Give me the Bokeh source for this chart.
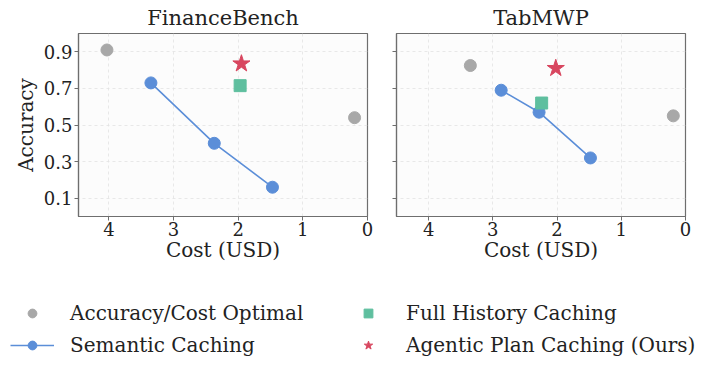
from bokeh.plotting import figure
from bokeh.models import Range1d, FixedTicker, Legend, LegendItem
from bokeh.layouts import column, row
from bokeh.embed import file_html
from bokeh.resources import INLINE

# ---- data ----
panels = ["FinanceBench", "TabMWP"]

fb_opt_cost = [4.03, 0.2]
fb_opt_acc = [0.91, 0.54]
fb_sem_cost = [3.35, 2.37, 1.47]
fb_sem_acc = [0.73, 0.40, 0.16]
fb_full_cost = [1.97]
fb_full_acc = [0.715]
fb_apc_cost = [1.95]
fb_apc_acc = [0.835]

tm_opt_cost = [3.35, 0.19]
tm_opt_acc = [0.825, 0.55]
tm_sem_cost = [2.87, 2.28, 1.48]
tm_sem_acc = [0.69, 0.57, 0.32]
tm_full_cost = [2.24]
tm_full_acc = [0.62]
tm_apc_cost = [2.02]
tm_apc_acc = [0.81]

x_ticks = [0, 1, 2, 3, 4]
y_ticks = [0.1, 0.3, 0.5, 0.7, 0.9]

labels = ["Accuracy/Cost Optimal", "Semantic Caching",
          "Full History Caching", "Agentic Plan Caching (Ours)"]

GRAY = "#a8a8a8"
BLUE = "#5b8ed8"
TEAL = "#5fbf9f"
RED = "#d8465f"
FONT = "DejaVu Serif"
FRAME = "#6e6e6e"
TXT = "#222222"


def make_panel(title, opt_c, opt_a, sem_c, sem_a, full_c, full_a, apc_c, apc_a,
               show_y, min_left, min_right, xmax):
    p = figure(frame_width=289, frame_height=183, output_backend="svg",
               toolbar_location=None,
               x_range=Range1d(xmax, 0), y_range=Range1d(0.0, 1.0),
               min_border_left=min_left, min_border_right=min_right,
               min_border_top=33, min_border_bottom=55,
               background_fill_color="#fcfcfc", border_fill_color="white")
    p.title.text = title
    p.title.align = "center"
    p.title.vertical_align = "top"
    p.title.text_font = FONT
    p.title.text_font_size = "21px"
    p.title.text_line_height = 0.8
    p.title.text_font_style = "normal"
    p.title.text_color = TXT
    p.title.standoff = 4

    p.outline_line_color = FRAME
    p.outline_line_width = 1.2

    for ax in (p.xaxis, p.yaxis):
        ax.axis_line_color = FRAME
        ax.axis_line_width = 1.2
        ax.major_tick_line_color = FRAME
        ax.major_tick_out = 4
        ax.major_tick_in = 0
        ax.minor_tick_line_color = None
        ax.major_label_text_font = FONT
        ax.major_label_text_font_size = "18px"
        ax.major_label_text_color = TXT
        ax.axis_label_text_font = FONT
        ax.axis_label_text_font_size = "20px"
        ax.axis_label_text_font_style = "normal"
        ax.axis_label_text_color = TXT

    p.xaxis.ticker = FixedTicker(ticks=x_ticks)
    p.yaxis.ticker = FixedTicker(ticks=y_ticks)
    p.xaxis.axis_label = "Cost (USD)"
    p.xaxis.axis_label_standoff = -1
    p.xaxis.major_label_standoff = 1
    if show_y:
        p.yaxis.axis_label = "Accuracy"
        p.yaxis.axis_label_standoff = 3
        p.yaxis.major_label_standoff = 2
    else:
        p.yaxis.major_label_overrides = {t: "" for t in y_ticks}
        p.yaxis.major_label_standoff = 0

    p.grid.grid_line_color = "#e2e2e2"
    p.grid.grid_line_dash = "3 3"
    p.grid.grid_line_width = 0.8

    p.scatter(opt_c, opt_a, size=12, color=GRAY, marker="circle")
    p.line(sem_c, sem_a, line_color=BLUE, line_width=1.6)
    p.scatter(sem_c, sem_a, size=12, color=BLUE, marker="circle")
    p.scatter(full_c, full_a, size=12, color=TEAL, marker="square")
    p.scatter(apc_c, apc_a, size=18, color=RED, marker="star")
    return p


p1 = make_panel(panels[0], fb_opt_cost, fb_opt_acc, fb_sem_cost, fb_sem_acc,
                fb_full_cost, fb_full_acc, fb_apc_cost, fb_apc_acc,
                True, 78, 14, 4.47)
p2 = make_panel(panels[1], tm_opt_cost, tm_opt_acc, tm_sem_cost, tm_sem_acc,
                tm_full_cost, tm_full_acc, tm_apc_cost, tm_apc_acc,
                False, 15, 20, 4.5)

# ---- legend figure (its series sit outside the visible range; only the legend shows) ----
lf = figure(width=705, height=88, output_backend="svg", toolbar_location=None,
            x_range=Range1d(100, 101), y_range=Range1d(100, 101), min_border=0)
lf.axis.visible = False
lf.grid.visible = False
lf.outline_line_color = None
r_opt = lf.scatter(fb_opt_cost, fb_opt_acc, size=12, color=GRAY)
r_line = lf.line(fb_sem_cost, fb_sem_acc, line_color=BLUE, line_width=1.6)
r_sem = lf.scatter(fb_sem_cost, fb_sem_acc, size=12, color=BLUE)
r_full = lf.scatter(fb_full_cost, fb_full_acc, size=12, color=TEAL, marker="square")
r_apc = lf.scatter(fb_apc_cost, fb_apc_acc, size=15, color=RED, marker="star")

legend = Legend(items=[
    LegendItem(label=labels[0], renderers=[r_opt]),
    LegendItem(label=labels[1], renderers=[r_line, r_sem]),
    LegendItem(label=labels[2], renderers=[r_full]),
    LegendItem(label=labels[3], renderers=[r_apc]),
], ncols=2, border_line_color=None,
    background_fill_alpha=0, label_text_font=FONT, label_text_font_size="20px",
    label_text_color=TXT, glyph_width=44, glyph_height=22, label_width=268,
    label_standoff=16, spacing=8, padding=0, margin=0)
legend.location = (10, 2)
lf.add_layout(legend, "center")

layout = column(row(p1, p2), lf)

with open("out.html", "w") as f:
    f.write(file_html(layout, INLINE))
